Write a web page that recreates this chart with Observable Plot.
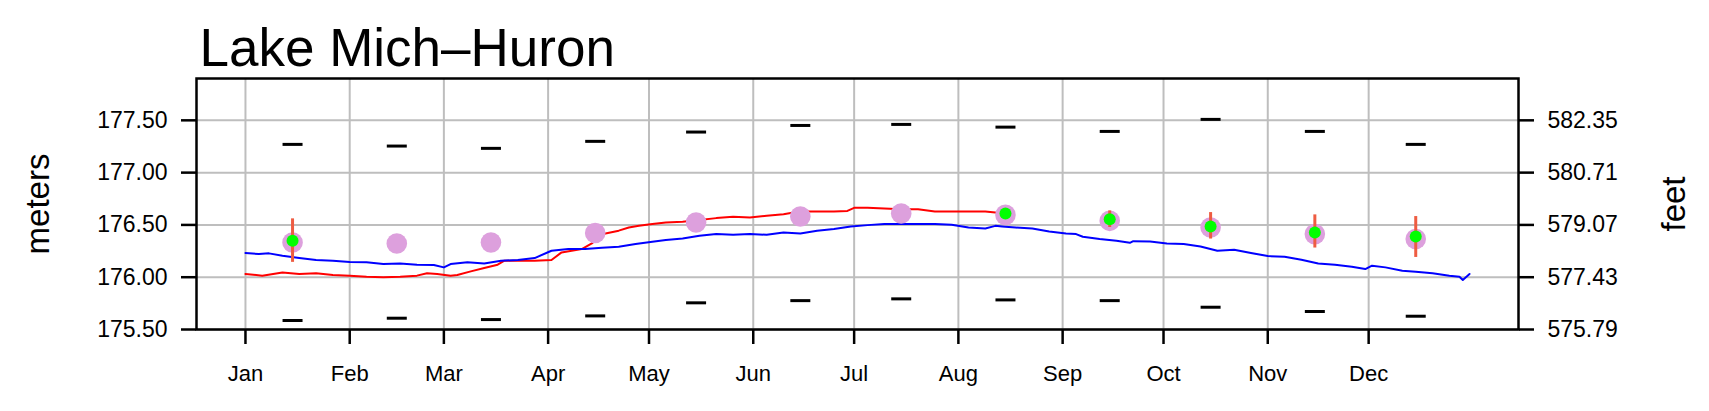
<!DOCTYPE html>
<html><head><meta charset="utf-8">
<script src="https://cdn.jsdelivr.net/npm/d3@7"></script>
<script src="https://cdn.jsdelivr.net/npm/@observablehq/plot@0.6"></script>
<style>body{margin:0;background:#fff}</style>
</head><body><div id="chart"></div>
<script>
const title = "Lake Mich–Huron";
const months = ["Jan","Feb","Mar","Apr","May","Jun","Jul","Aug","Sep","Oct","Nov","Dec"];
const monthStartDays = [0,31,59,90,120,151,181,212,243,273,304,334];
const midMonthDays = [14,45,73,104,134,165,195,226,257,287,318,348];
const monthlyMax = [177.270,177.254,177.232,177.299,177.388,177.451,177.461,177.435,177.394,177.509,177.394,177.270];
const monthlyMin = [175.586,175.608,175.595,175.630,175.755,175.776,175.793,175.783,175.776,175.713,175.672,175.627];
const monthlyMean = [176.332,176.323,176.332,176.422,176.523,176.580,176.609,176.596,176.539,176.475,176.412,176.365];
const forecastMonths = ["Jan","Aug","Sep","Oct","Nov","Dec"];
const forecastValue = [176.348,176.609,176.555,176.485,176.428,176.389];
const forecastLow = [176.142,176.600,176.475,176.365,176.279,176.189];
const forecastHigh = [176.558,176.620,176.634,176.618,176.596,176.580];
const meterTicks = [175.5,176.0,176.5,177.0,177.5];
const meterTickLabels = ["175.50","176.00","176.50","177.00","177.50"];
const feetTickLabels = ["575.79","577.43","579.07","580.71","582.35"];

const blueDays = [0,4,7,11,16,21,26,31,36,41,46,51,56,59,61,66,71,76,81,86,91,96,101,106,111,116,121,125,130,135,140,145,150,155,160,165,170,175,180,185,190,195,200,205,210,215,220,223,225,229,234,239,244,247,249,254,259,263,264,269,274,279,284,289,294,299,304,309,314,319,324,329,333,335,339,344,348,353,358,361,362,364];
const blueLevels = [176.231,176.222,176.228,176.205,176.183,176.164,176.158,176.145,176.142,176.126,176.132,176.120,176.117,176.094,176.126,176.142,176.132,176.158,176.164,176.183,176.253,176.269,176.269,176.282,176.291,176.317,176.339,176.355,176.371,176.396,176.412,176.406,176.412,176.406,176.428,176.418,176.444,176.460,176.485,176.498,176.508,176.508,176.508,176.508,176.501,176.475,176.466,176.491,176.485,176.475,176.466,176.437,176.418,176.412,176.387,176.365,176.348,176.329,176.345,176.342,176.323,176.317,176.294,176.253,176.263,176.231,176.202,176.196,176.167,176.132,176.120,176.101,176.078,176.110,176.094,176.062,176.053,176.037,176.015,176.005,175.974,176.031];

const redDays = [0,5,11,16,21,26,31,36,41,46,51,54,57,61,63,67,71,75,77,81,86,91,94,97,100,103,106,111,114,117,121,125,130,135,140,145,150,155,160,163,165,170,175,179,181,185,190,195,200,205,210,215,220,223,226];
const redLevels = [176.031,176.015,176.046,176.031,176.037,176.021,176.015,176.005,175.999,176.005,176.015,176.037,176.031,176.015,176.021,176.056,176.088,176.120,176.158,176.158,176.158,176.164,176.237,176.253,176.269,176.323,176.410,176.445,176.475,176.491,176.508,176.523,176.530,176.546,176.565,176.577,176.571,176.587,176.603,176.618,176.628,176.628,176.628,176.634,176.663,176.663,176.657,176.650,176.650,176.628,176.628,176.628,176.628,176.618,176.609];

const blue = blueDays.map((d, i) => ({day: d, level: blueLevels[i]}));
const red = redDays.map((d, i) => ({day: d, level: redLevels[i]}));
const monthly = months.map((m, i) => ({month: m, day: midMonthDays[i], max: monthlyMax[i], min: monthlyMin[i], mean: monthlyMean[i]}));
const forecast = forecastMonths.map((m, i) => ({day: midMonthDays[months.indexOf(m)], value: forecastValue[i], lo: forecastLow[i], hi: forecastHigh[i]}));

const hDash = {draw(context, size) { const r = Math.sqrt(size / Math.PI); context.moveTo(-r, 0); context.lineTo(r, 0); }};
const gridColor = "#bebebe";

const chart = Plot.plot({
  width: 1709, height: 411,
  marginLeft: 196, marginRight: 191, marginTop: 78, marginBottom: 82,
  style: {fontFamily: "'Liberation Sans', Arial, Helvetica, sans-serif", background: "white", color: "black"},
  x: {domain: [-14.56, 378.56], axis: null},
  y: {domain: [175.5, 177.9], axis: null},
  marks: [
    Plot.gridX({ticks: monthStartDays, stroke: gridColor, strokeOpacity: 1, strokeWidth: 2}),
    Plot.gridY({ticks: meterTicks, stroke: gridColor, strokeOpacity: 1, strokeWidth: 2}),
    Plot.line(red, {x: "day", y: "level", stroke: "#ff0000", strokeWidth: 2}),
    Plot.line(blue, {x: "day", y: "level", stroke: "#0000ff", strokeWidth: 2}),
    Plot.dot(monthly, {x: "day", y: "max", r: 10, symbol: hDash, stroke: "black", fill: "none", strokeWidth: 3}),
    Plot.dot(monthly, {x: "day", y: "min", r: 10, symbol: hDash, stroke: "black", fill: "none", strokeWidth: 3}),
    Plot.dot(monthly, {x: "day", y: "mean", r: 10.3, fill: "#dda0dd", stroke: "none"}),
    Plot.ruleX(forecast, {x: "day", y1: "lo", y2: "hi", stroke: "#ee5c42", strokeWidth: 3}),
    Plot.dot(forecast, {x: "day", y: "value", r: 6, fill: "#00ff00", stroke: "none"}),
    Plot.frame({stroke: "black", strokeWidth: 2.5}),
    Plot.axisY({ticks: meterTicks, anchor: "left", label: null, tickSize: 15, tickPadding: 14, strokeWidth: 2.5, fontSize: 23,
      tickFormat: d => meterTickLabels[meterTicks.indexOf(d)]}),
    Plot.axisY({ticks: meterTicks, anchor: "right", label: null, tickSize: 15, tickPadding: 14, strokeWidth: 2.5, fontSize: 23,
      tickFormat: d => feetTickLabels[meterTicks.indexOf(d)]}),
    Plot.axisX({ticks: monthStartDays, anchor: "bottom", label: null, tickSize: 15, tickPadding: 21, strokeWidth: 2.5, fontSize: 22,
      tickFormat: d => months[monthStartDays.indexOf(d)]}),
    Plot.text([title], {text: d => d, frameAnchor: "top-left", textAnchor: "start", lineAnchor: "bottom", dx: 3, dy: -13, fontSize: 53, fill: "black"}),
    Plot.text(["meters"], {text: d => d, frameAnchor: "left", rotate: -90, dx: -158, fontSize: 33, fill: "black", textAnchor: "middle", lineAnchor: "middle"}),
    Plot.text(["feet"], {text: d => d, frameAnchor: "right", rotate: -90, dx: 156, fontSize: 33, fill: "black", textAnchor: "middle", lineAnchor: "middle"})
  ]
});
document.getElementById("chart").appendChild(chart);
</script>
</body></html>
